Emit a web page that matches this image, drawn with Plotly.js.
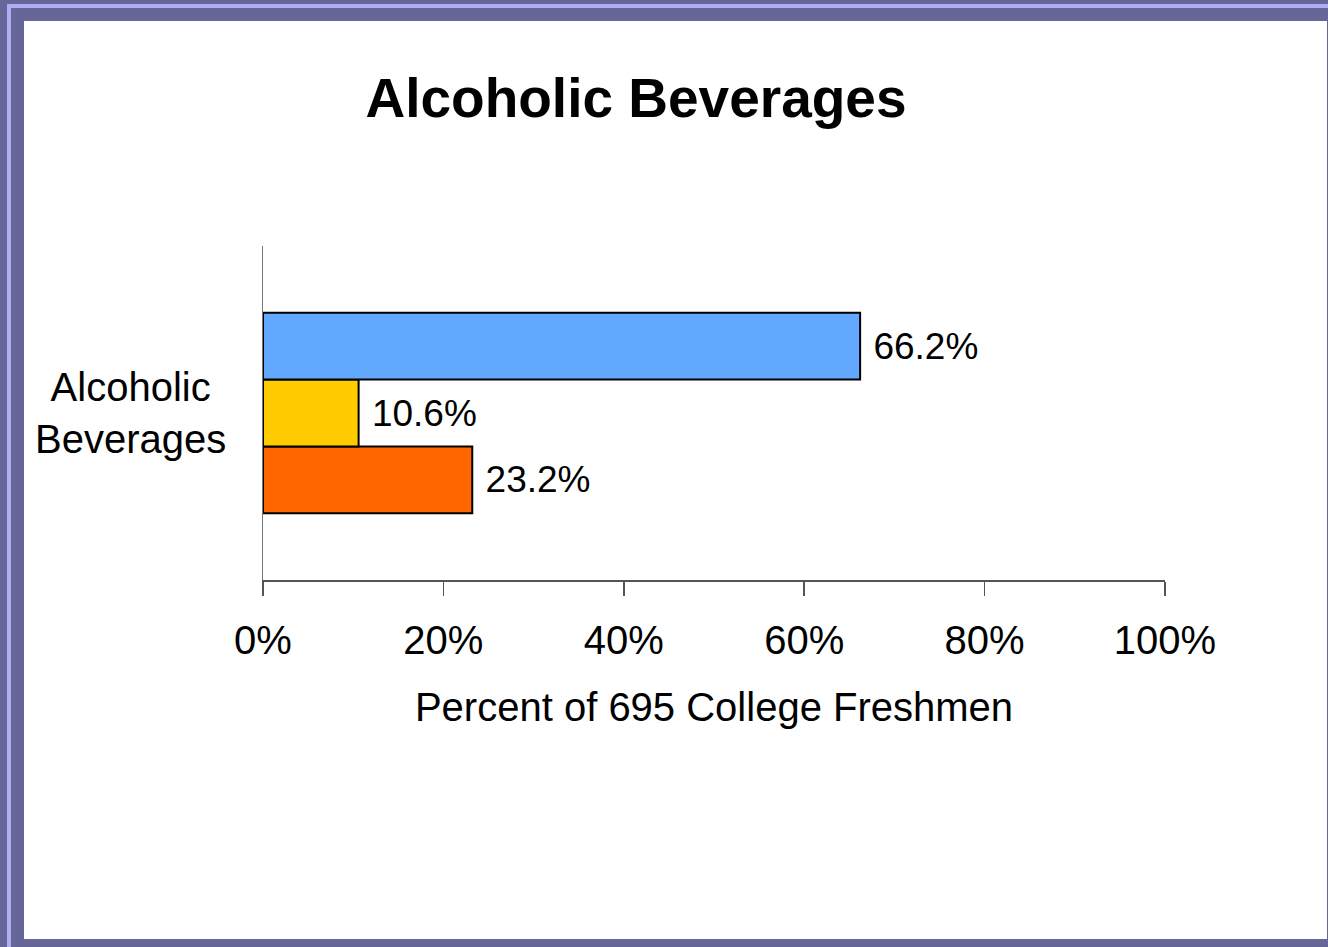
<!DOCTYPE html>
<html>
<head>
<meta charset="utf-8">
<script src="https://cdn.plot.ly/plotly-3.0.1.min.js"></script>
<style>
  html, body { margin: 0; padding: 0; width: 1328px; height: 947px; overflow: hidden; background: #666699; }
  #stripeTop { position: absolute; left: 7px; top: 4px; width: 1321px; height: 4px; background: #aeaef4; }
  #stripeLeft { position: absolute; left: 7px; top: 4px; width: 4px; height: 943px; background: #aeaef4; }
  #panel { position: absolute; left: 24px; top: 21px; width: 1303px; height: 918px; background: #ffffff; }
  #chart { position: absolute; left: 0; top: 0; width: 1328px; height: 947px; }
</style>
</head>
<body>
<div id="stripeTop"></div>
<div id="stripeLeft"></div>
<div id="panel"></div>
<div id="chart"></div>
<script>
// Data
const categories = ['Alcoholic Beverages'];
const seriesNames = ['Series A', 'Series B', 'Series C'];   // top to bottom
const seriesValues = [66.2, 10.6, 23.2];                    // percent
const seriesColors = ['#62a8ff', '#ffcc00', '#ff6600'];
const xTickVals = [0, 20, 40, 60, 80, 100];
const xTickText = ['0%', '20%', '40%', '60%', '80%', '100%'];

const FONT = 'Liberation Sans, Arial, sans-serif';

// Plotly stacks grouped horizontal bars bottom-up, so add traces in reverse
const traces = [];
for (let i = seriesValues.length - 1; i >= 0; i--) {
  traces.push({
    type: 'bar',
    orientation: 'h',
    name: seriesNames[i],
    y: categories,
    x: [seriesValues[i]],
    marker: { color: seriesColors[i], line: { color: '#000000', width: 2 } },
    text: [seriesValues[i].toFixed(1) + '%'],
    texttemplate: '\u00a0%{text}',
    textposition: 'outside',
    constraintext: 'none',
    cliponaxis: false,
    textfont: { family: FONT, size: 37, color: '#000000' },
    hoverinfo: 'skip'
  });
}

const layout = {
  width: 1328,
  height: 947,
  paper_bgcolor: 'rgba(0,0,0,0)',
  plot_bgcolor: 'rgba(0,0,0,0)',
  showlegend: false,
  barmode: 'group',
  bargap: 0.4,
  bargroupgap: 0,
  margin: { l: 263, r: 163, t: 246, b: 367, pad: 0 },
  font: { family: FONT, color: '#000000' },
  title: {
    text: '<b>Alcoholic Beverages</b>',
    font: { family: FONT, size: 55, color: '#000000' },
    x: 636 / 1328, xanchor: 'center', xref: 'container',
    y: 1 - 98 / 947, yanchor: 'middle', yref: 'container'
  },
  xaxis: {
    range: [0, 100],
    tickvals: xTickVals,
    ticktext: xTickText,
    ticks: 'outside',
    ticklen: 14,
    tickwidth: 1.5,
    tickcolor: '#555555',
    showline: true,
    linecolor: '#555555',
    linewidth: 1.5,
    showgrid: false,
    zeroline: false,
    tickfont: { family: FONT, size: 40, color: '#000000' },
    ticklabelstandoff: 10,
    title: {
      text: 'Percent of 695 College Freshmen',
      font: { family: FONT, size: 40, color: '#000000' },
      standoff: 32
    },
    fixedrange: true
  },
  yaxis: {
    type: 'category',
    range: [-0.5, 0.5],
    showticklabels: false,
    ticks: '',
    showline: true,
    linecolor: '#777777',
    linewidth: 1.5,
    showgrid: false,
    zeroline: false,
    fixedrange: true
  },
  annotations: [{
    xref: 'paper', yref: 'y',
    x: (130 - 263) / 902, y: categories[0],
    xanchor: 'center', yanchor: 'middle',
    text: categories[0].replace(' ', '<br>'),
    align: 'center',
    showarrow: false,
    font: { family: FONT, size: 40, color: '#000000' }
  }]
};

Plotly.newPlot('chart', traces, layout, { displayModeBar: false, staticPlot: true });
</script>
</body>
</html>
